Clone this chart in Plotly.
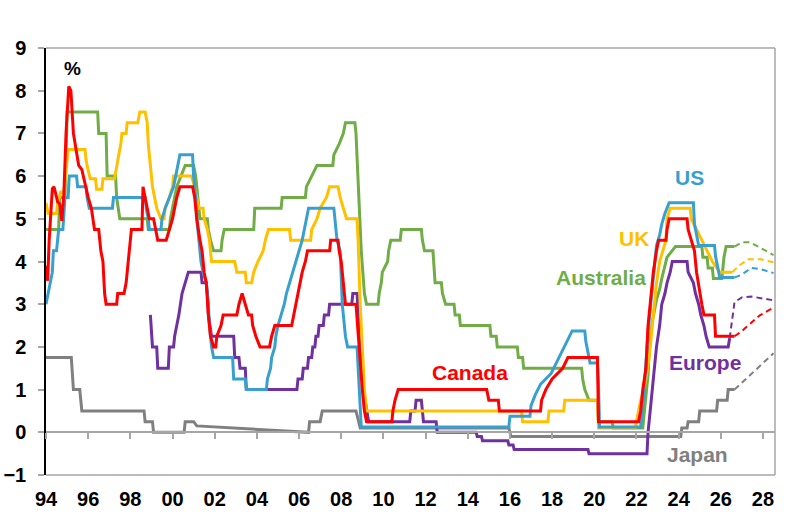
import plotly.graph_objects as go

# ---------------- data (year fraction, policy rate %) ----------------
canada = [(1994.0,3.9),(1994.08,3.55),(1994.15,4.5),(1994.3,5.7),(1994.38,5.75),(1994.45,5.6),(1994.55,5.4),(1994.65,5.35),(1994.75,4.95),(1994.85,5.6),(1994.95,7.0),(1995.08,8.1),(1995.18,8.0),(1995.3,7.0),(1995.45,6.5),(1995.55,6.25),(1995.7,6.15),(1995.85,5.8),(1996.0,5.5),(1996.15,5.25),(1996.3,4.75),(1996.5,4.75),(1996.6,4.25),(1996.7,4.0),(1996.78,3.25),(1996.85,3.0),(1997.35,3.0),(1997.4,3.25),(1997.7,3.25),(1997.8,3.5),(1997.9,4.0),(1998.0,4.5),(1998.05,4.75),(1998.55,4.75),(1998.6,5.75),(1998.7,5.5),(1998.8,5.25),(1998.9,5.0),(1999.1,5.0),(1999.2,4.75),(1999.3,4.5),(1999.7,4.5),(1999.85,4.75),(2000.0,5.0),(2000.1,5.25),(2000.2,5.5),(2000.35,5.75),(2000.95,5.75),(2001.05,5.5),(2001.15,5.0),(2001.3,4.5),(2001.4,4.25),(2001.5,3.75),(2001.6,3.5),(2001.7,2.75),(2001.8,2.25),(2001.95,2.0),(2002.05,2.0),(2002.1,2.25),(2002.3,2.5),(2002.4,2.75),(2003.05,2.75),(2003.15,3.0),(2003.3,3.25),(2003.45,3.0),(2003.6,2.75),(2003.75,2.75),(2003.8,2.5),(2003.95,2.25),(2004.15,2.0),(2004.6,2.0),(2004.7,2.25),(2004.85,2.5),(2005.65,2.5),(2005.75,2.75),(2005.85,3.0),(2005.95,3.25),(2006.05,3.5),(2006.15,3.75),(2006.3,4.0),(2006.4,4.25),(2007.45,4.25),(2007.5,4.5),(2007.85,4.5),(2007.9,4.25),(2008.0,4.0),(2008.1,3.5),(2008.2,3.0),(2008.7,3.0),(2008.8,2.25),(2008.9,1.5),(2009.0,1.0),(2009.1,0.5),(2009.2,0.25),(2010.4,0.25),(2010.45,0.5),(2010.55,0.75),(2010.7,1.0),(2014.9,1.0),(2015.0,0.75),(2015.45,0.75),(2015.5,0.5),(2017.45,0.5),(2017.5,0.75),(2017.7,1.0),(2018.0,1.25),(2018.5,1.5),(2018.75,1.75),(2020.15,1.75),(2020.2,0.25),(2022.1,0.25),(2022.2,0.5),(2022.3,1.0),(2022.45,1.5),(2022.55,2.5),(2022.7,3.25),(2022.8,3.75),(2022.95,4.25),(2023.05,4.5),(2023.4,4.5),(2023.45,4.75),(2023.55,5.0),(2024.4,5.0),(2024.45,4.75),(2024.6,4.5),(2024.75,4.25),(2024.85,3.75),(2025.0,3.25),(2025.1,3.0),(2025.2,2.75),(2025.7,2.75),(2025.75,2.25),(2026.65,2.25)]
canada_fc = [(2026.65,2.25),(2026.95,2.35),(2027.2,2.46),(2027.85,2.74),(2028.5,2.92)]

us = [(1994.0,3.0),(1994.1,3.25),(1994.2,3.5),(1994.3,3.75),(1994.35,4.25),(1994.5,4.25),(1994.6,4.75),(1994.8,4.75),(1994.9,5.5),(1995.05,5.5),(1995.1,6.0),(1995.45,6.0),(1995.5,5.75),(1995.9,5.75),(1995.95,5.5),(1996.05,5.25),(1997.15,5.25),(1997.2,5.5),(1998.7,5.5),(1998.75,5.25),(1998.85,5.0),(1998.9,4.75),(1999.45,4.75),(1999.5,5.0),(1999.65,5.25),(1999.85,5.5),(2000.05,5.75),(2000.15,6.0),(2000.35,6.5),(2000.95,6.5),(2001.0,6.0),(2001.1,5.5),(2001.15,5.0),(2001.25,4.5),(2001.35,4.0),(2001.45,3.75),(2001.6,3.5),(2001.7,3.0),(2001.75,2.5),(2001.85,2.0),(2001.95,1.75),(2002.85,1.75),(2002.9,1.25),(2003.45,1.25),(2003.5,1.0),(2004.45,1.0),(2004.5,1.25),(2004.65,1.5),(2004.7,1.75),(2004.85,2.0),(2004.9,2.25),(2005.0,2.5),(2005.15,2.75),(2005.3,3.0),(2005.4,3.25),(2005.55,3.5),(2005.7,3.75),(2005.85,4.0),(2006.0,4.25),(2006.15,4.5),(2006.25,4.75),(2006.35,5.0),(2006.45,5.25),(2007.65,5.25),(2007.75,4.75),(2007.8,4.5),(2007.95,4.25),(2008.05,3.0),(2008.2,2.25),(2008.3,2.0),(2008.75,2.0),(2008.8,1.5),(2008.85,1.0),(2008.95,0.125),(2015.95,0.125),(2016.0,0.375),(2016.95,0.375),(2017.0,0.625),(2017.2,0.875),(2017.45,1.125),(2017.95,1.375),(2018.2,1.625),(2018.45,1.875),(2018.7,2.125),(2018.95,2.375),(2019.55,2.375),(2019.6,2.125),(2019.7,1.875),(2019.8,1.625),(2020.15,1.625),(2020.2,1.125),(2020.25,0.125),(2022.2,0.125),(2022.25,0.375),(2022.35,0.875),(2022.45,1.625),(2022.55,2.375),(2022.7,3.125),(2022.85,3.875),(2022.95,4.375),(2023.1,4.625),(2023.2,4.875),(2023.35,5.125),(2023.55,5.375),(2024.7,5.375),(2024.75,4.875),(2024.85,4.625),(2024.95,4.375),(2025.7,4.375),(2025.75,4.125),(2025.85,3.875),(2025.95,3.625),(2026.65,3.625)]
us_fc = [(2026.65,3.625),(2026.95,3.68),(2027.45,3.85),(2027.9,3.82),(2028.5,3.73)]

uk = [(1994.0,5.375),(1994.1,5.125),(1994.5,5.125),(1994.55,5.375),(1994.7,5.625),(1994.85,5.625),(1994.95,6.125),(1995.05,6.625),(1995.85,6.625),(1995.9,6.375),(1996.0,6.125),(1996.1,5.94),(1996.35,5.94),(1996.4,5.69),(1996.65,5.69),(1996.7,5.94),(1997.25,5.94),(1997.35,6.25),(1997.45,6.5),(1997.55,6.75),(1997.6,7.0),(1997.8,7.0),(1997.85,7.25),(1998.35,7.25),(1998.45,7.5),(1998.7,7.5),(1998.8,7.25),(1998.85,6.75),(1998.95,6.25),(1999.05,5.75),(1999.15,5.5),(1999.25,5.25),(1999.45,5.0),(1999.6,5.0),(1999.65,5.25),(1999.85,5.5),(2000.0,5.75),(2000.05,6.0),(2000.9,6.0),(2001.05,5.75),(2001.15,5.5),(2001.25,5.25),(2001.45,5.25),(2001.5,5.0),(2001.65,4.75),(2001.75,4.5),(2001.85,4.0),(2002.95,4.0),(2003.05,3.75),(2003.45,3.75),(2003.5,3.5),(2003.75,3.5),(2003.85,3.75),(2004.05,4.0),(2004.3,4.25),(2004.4,4.5),(2004.55,4.75),(2005.55,4.75),(2005.6,4.5),(2006.55,4.5),(2006.6,4.75),(2006.85,5.0),(2007.0,5.25),(2007.3,5.5),(2007.45,5.75),(2007.85,5.75),(2007.95,5.5),(2008.1,5.25),(2008.25,5.0),(2008.75,5.0),(2008.8,4.5),(2008.9,3.0),(2009.0,2.0),(2009.05,1.5),(2009.1,1.0),(2009.2,0.5),(2016.55,0.5),(2016.6,0.25),(2017.8,0.25),(2017.85,0.5),(2018.55,0.5),(2018.6,0.75),(2020.15,0.75),(2020.2,0.1),(2021.95,0.1),(2022.0,0.25),(2022.1,0.5),(2022.2,0.75),(2022.35,1.0),(2022.45,1.25),(2022.6,1.75),(2022.7,2.25),(2022.85,3.0),(2022.95,3.5),(2023.1,4.0),(2023.25,4.25),(2023.4,4.5),(2023.45,5.0),(2023.6,5.25),(2024.55,5.25),(2024.6,5.0),(2024.85,4.75),(2025.1,4.5),(2025.35,4.25),(2025.6,4.0),(2025.95,3.75),(2026.55,3.75)]
uk_fc = [(2026.55,3.75),(2026.85,3.9),(2027.3,4.05),(2027.9,4.05),(2028.5,3.98)]

australia = [(1994.0,4.75),(1994.6,4.75),(1994.65,5.5),(1994.9,5.5),(1995.0,7.5),(1996.45,7.5),(1996.5,7.0),(1996.85,7.0),(1996.9,6.0),(1997.3,6.0),(1997.35,5.5),(1997.5,5.0),(1998.8,5.0),(1998.85,4.75),(1999.85,4.75),(1999.9,5.0),(2000.1,5.5),(2000.2,5.75),(2000.4,6.0),(2000.6,6.25),(2001.0,6.25),(2001.1,6.0),(2001.2,5.5),(2001.3,5.0),(2001.65,5.0),(2001.7,4.75),(2001.8,4.5),(2001.95,4.25),(2002.3,4.25),(2002.35,4.5),(2002.45,4.75),(2003.85,4.75),(2003.9,5.25),(2005.15,5.25),(2005.2,5.5),(2006.3,5.5),(2006.35,5.75),(2006.6,6.0),(2006.85,6.25),(2007.6,6.25),(2007.65,6.5),(2007.9,6.75),(2008.1,7.0),(2008.2,7.25),(2008.65,7.25),(2008.7,7.0),(2008.8,6.0),(2008.85,5.25),(2008.95,4.25),(2009.1,3.25),(2009.2,3.0),(2009.75,3.0),(2009.8,3.25),(2009.9,3.5),(2009.95,3.75),(2010.2,4.0),(2010.25,4.25),(2010.35,4.5),(2010.8,4.5),(2010.85,4.75),(2011.8,4.75),(2011.85,4.5),(2011.95,4.25),(2012.35,4.25),(2012.4,3.75),(2012.45,3.5),(2012.75,3.5),(2012.8,3.25),(2012.95,3.0),(2013.35,3.0),(2013.4,2.75),(2013.6,2.75),(2013.65,2.5),(2015.05,2.5),(2015.1,2.25),(2015.35,2.25),(2015.4,2.0),(2016.35,2.0),(2016.4,1.75),(2016.6,1.75),(2016.65,1.5),(2019.4,1.5),(2019.45,1.25),(2019.55,1.0),(2019.75,0.75),(2020.15,0.75),(2020.2,0.25),(2020.85,0.25),(2020.9,0.1),(2022.3,0.1),(2022.35,0.35),(2022.45,0.85),(2022.55,1.35),(2022.6,1.85),(2022.7,2.35),(2022.75,2.6),(2022.85,2.85),(2022.95,3.1),(2023.1,3.35),(2023.2,3.6),(2023.45,4.1),(2023.85,4.35),(2025.1,4.35),(2025.15,4.1),(2025.35,4.1),(2025.4,3.85),(2025.6,3.85),(2025.65,3.6),(2026.05,3.6),(2026.15,4.1),(2026.25,4.35),(2026.65,4.35)]
australia_fc = [(2026.65,4.35),(2027.0,4.45),(2027.4,4.45),(2027.95,4.3),(2028.5,4.15)]

europe = [(1998.95,2.75),(1999.05,2.0),(1999.25,2.0),(1999.3,1.5),(1999.8,1.5),(1999.85,2.0),(2000.05,2.0),(2000.1,2.25),(2000.2,2.5),(2000.3,2.75),(2000.45,3.25),(2000.75,3.75),(2001.35,3.75),(2001.4,3.5),(2001.6,3.5),(2001.65,3.25),(2001.7,2.75),(2001.85,2.25),(2002.9,2.25),(2002.95,1.75),(2003.15,1.75),(2003.2,1.5),(2003.45,1.5),(2003.5,1.0),(2005.9,1.0),(2005.95,1.25),(2006.15,1.25),(2006.2,1.5),(2006.4,1.5),(2006.45,1.75),(2006.6,1.75),(2006.65,2.0),(2006.75,2.0),(2006.8,2.25),(2006.9,2.25),(2006.95,2.5),(2007.15,2.5),(2007.2,2.75),(2007.4,2.75),(2007.45,3.0),(2008.5,3.0),(2008.55,3.25),(2008.75,3.25),(2008.8,2.75),(2008.85,2.25),(2008.95,1.5),(2009.05,1.0),(2009.2,0.5),(2009.3,0.25),(2011.25,0.25),(2011.3,0.5),(2011.5,0.5),(2011.55,0.75),(2011.8,0.75),(2011.85,0.5),(2011.9,0.25),(2012.5,0.25),(2012.55,0.0),(2014.4,0.0),(2014.45,-0.1),(2014.65,-0.1),(2014.7,-0.2),(2015.9,-0.2),(2015.95,-0.3),(2016.15,-0.3),(2016.2,-0.4),(2019.7,-0.4),(2019.75,-0.5),(2022.5,-0.5),(2022.55,0.0),(2022.7,0.75),(2022.85,1.5),(2022.95,2.0),(2023.1,2.5),(2023.2,3.0),(2023.35,3.25),(2023.45,3.5),(2023.6,3.75),(2023.7,4.0),(2024.4,4.0),(2024.45,3.75),(2024.7,3.5),(2024.8,3.25),(2024.95,3.0),(2025.05,2.75),(2025.2,2.5),(2025.3,2.25),(2025.45,2.0),(2026.35,2.0),(2026.42,2.2)]
europe_fc = [(2026.42,2.2),(2026.5,2.46),(2026.65,3.05),(2027.0,3.16),(2027.45,3.18),(2028.5,3.09)]

japan = [(1994.0,1.75),(1995.2,1.75),(1995.3,1.0),(1995.6,1.0),(1995.7,0.5),(1998.65,0.5),(1998.7,0.25),(1999.05,0.25),(1999.1,0.0),(2000.55,0.0),(2000.6,0.25),(2001.0,0.25),(2001.15,0.15),(2005.95,0.0),(2006.45,0.0),(2006.5,0.25),(2007.0,0.25),(2007.1,0.5),(2008.7,0.5),(2008.8,0.3),(2008.9,0.1),(2015.95,0.1),(2016.05,-0.1),(2024.1,-0.1),(2024.15,0.1),(2024.4,0.1),(2024.45,0.25),(2024.95,0.25),(2025.0,0.5),(2025.8,0.5),(2025.85,0.75),(2026.3,0.75),(2026.35,1.0),(2026.65,1.0)]
japan_fc = [(2026.65,1.0),(2028.5,1.85)]

tick_years = list(range(1994, 2029, 2))
tick_labels = ["94","96","98","00","02","04","06","08","10","12","14","16","18","20","22","24","26","28"]
y_ticks = list(range(-1, 10))

# ---------------- styling ----------------
COL = {"Japan": "#808080", "Europe": "#7030A0", "Australia": "#70AD47",
       "UK": "#FFC000", "US": "#38A0CF", "Canada": "#FF0000"}
FONT = "Arial, Liberation Sans, sans-serif"

series = [("Japan", japan, japan_fc), ("Europe", europe, europe_fc),
          ("Australia", australia, australia_fc), ("UK", uk, uk_fc),
          ("US", us, us_fc), ("Canada", canada, canada_fc)]

fig = go.Figure()
for name, hist, fc in series:
    fig.add_trace(go.Scatter(x=[p[0] for p in hist], y=[p[1] for p in hist], mode="lines",
                             line=dict(color=COL[name], width=3), name=name, showlegend=False))
    fig.add_trace(go.Scatter(x=[p[0] for p in fc], y=[p[1] for p in fc], mode="lines",
                             line=dict(color=COL[name], width=2, dash="6px,4px"),
                             name=name + " forecast", showlegend=False))

labels = [("US", 2024.52, 5.97), ("UK", 2021.87, 4.54), ("Australia", 2020.3, 3.63),
          ("Canada", 2014.1, 1.41), ("Europe", 2025.23, 1.64), ("Japan", 2024.9, -0.52)]
for name, lx, ly in labels:
    fig.add_annotation(x=lx, y=ly, text=name, showarrow=False,
                       font=dict(family=FONT, size=21, color=COL[name], weight="bold"))
fig.add_annotation(x=0.0225, y=8.52, xref="paper", yref="y", text="%", showarrow=False,
                   font=dict(family=FONT, size=19, color="black", weight="bold"))

fig.update_layout(
    width=797, height=519, margin=dict(l=46, r=22, t=48, b=44, autoexpand=False),
    paper_bgcolor="white", plot_bgcolor="white",
    xaxis=dict(range=[1994, 2028.57], tickvals=tick_years, ticktext=tick_labels,
               anchor="free", position=0.1, showline=True, linecolor="#A6A6A6", linewidth=1.5,
               ticks="outside", ticklen=6, tickcolor="#A6A6A6", tickwidth=1.5,
               ticklabelstandoff=43, showgrid=False, zeroline=False, automargin=False,
               tickfont=dict(family=FONT, size=20, color="black", weight="bold")),
    yaxis=dict(range=[-1, 9], tickvals=y_ticks, showline=True, linecolor="black", linewidth=1.5,
               ticks="outside", ticklen=6, tickcolor="#A6A6A6", tickwidth=1.5,
               ticklabelstandoff=8, showgrid=False, zeroline=False, automargin=False,
               tickfont=dict(family=FONT, size=20, color="black", weight="bold")),
    shapes=[
        dict(type="line", xref="paper", yref="paper", x0=0, x1=1, y0=1, y1=1,
             line=dict(color="#A6A6A6", width=1.5)),
        dict(type="line", xref="paper", yref="paper", x0=1, x1=1, y0=0, y1=1,
             line=dict(color="#A6A6A6", width=1.5)),
        dict(type="line", xref="paper", yref="paper", x0=0, x1=1, y0=0, y1=0,
             line=dict(color="#A6A6A6", width=1.5)),
    ],
)

# remove the default 8px page margin so the figure fills the window exactly
fig.write_html("out.html", config={"displayModeBar": False},
               post_script="document.body.style.margin='0';document.body.style.overflow='hidden';")
